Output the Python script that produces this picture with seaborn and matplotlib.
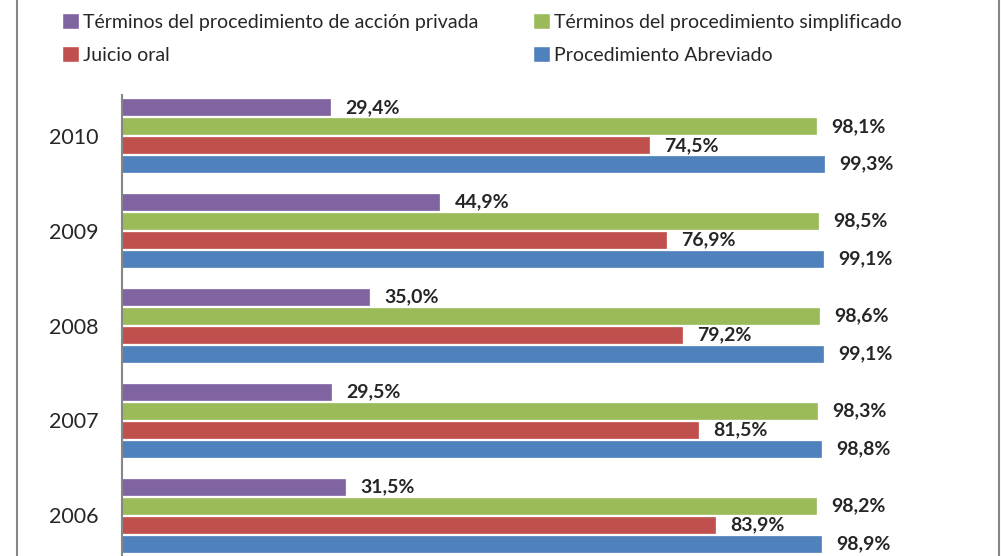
import pandas as pd
import matplotlib.pyplot as plt
import seaborn as sns
from matplotlib.lines import Line2D

# Data (share, %)
years = ["2010", "2009", "2008", "2007", "2006"]
series = [
    "Términos del procedimiento de acción privada",
    "Términos del procedimiento simplificado",
    "Juicio oral",
    "Procedimiento Abreviado",
]
accion_privada = [29.4, 44.9, 35.0, 29.5, 31.5]
simplificado = [98.1, 98.5, 98.6, 98.3, 98.2]
juicio_oral = [74.5, 76.9, 79.2, 81.5, 83.9]
abreviado = [99.3, 99.1, 99.1, 98.8, 98.9]
colors = ["#8064A2", "#9BBB59", "#C0504D", "#4F81BD"]

rows = []
for name, vals in zip(series, [accion_privada, simplificado, juicio_oral, abreviado]):
    for y, v in zip(years, vals):
        rows.append({"year": y, "serie": name, "valor": v})
df = pd.DataFrame(rows)

sns.set_style("white")
plt.rcParams["font.family"] = ["Lato", "DejaVu Sans"]

fig = plt.figure(figsize=(10.01, 5.56), dpi=100)
ax = fig.add_axes([122 / 1001, 0.0, 707 / 1001, 1 - 95 / 556])

sns.barplot(data=df, x="valor", y="year", hue="serie", order=years,
            hue_order=series, palette=colors, orient="h", width=0.8, gap=0.15,
            saturation=1, ax=ax, legend=True)

for cont in ax.containers:
    for bar in cont:
        bar.set_edgecolor(bar.get_facecolor())
        bar.set_linewidth(0.5)
    labels = [f"{b.get_width():.1f}%".replace(".", ",") for b in cont]
    ax.bar_label(cont, labels=labels, padding=11, fontsize=14,
                 fontweight="bold", clip_on=False)

ax.set_xlim(0, 100)
ax.set_ylim(4.43, -0.43)
ax.set_xlabel("")
ax.set_ylabel("")
ax.set_xticks([])
ax.tick_params(axis="y", length=0, pad=17, labelsize=15.5)
for s in ["top", "right", "bottom"]:
    ax.spines[s].set_visible(False)
ax.spines["left"].set_color("#868686")
ax.spines["left"].set_linewidth(1.5)

# legend on top, two columns
handles, lbls = ax.get_legend_handles_labels()
ax.get_legend().remove()
order = [0, 2, 1, 3]
fig.legend([handles[i] for i in order], [lbls[i] for i in order],
           ncol=2, loc="upper left", bbox_to_anchor=(44 / 1001, 1.008),
           frameon=False, fontsize=14, handlelength=0.9, handleheight=0.85,
           handletextpad=0.2, columnspacing=2.8, labelspacing=0.8)

# chart frame lines
fig.add_artist(Line2D([17 / 1001, 17 / 1001], [0, 1], color="#868686", lw=1.5))
fig.add_artist(Line2D([999 / 1001, 999 / 1001], [0, 1], color="#868686", lw=1.5))

fig.savefig("out.png", dpi=100)
